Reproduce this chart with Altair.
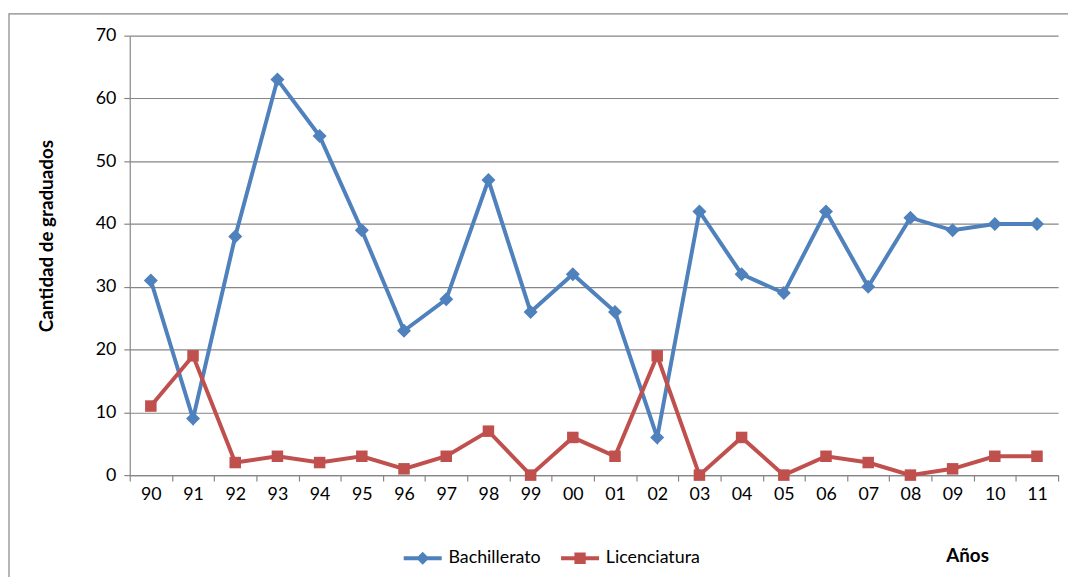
import altair as alt
import pandas as pd

years = ["90", "91", "92", "93", "94", "95", "96", "97", "98", "99", "00",
         "01", "02", "03", "04", "05", "06", "07", "08", "09", "10", "11"]
bachillerato = [31, 9, 38, 63, 54, 39, 23, 28, 47, 26, 32, 26, 6, 42, 32, 29, 42, 30, 41, 39, 40, 40]
licenciatura = [11, 19, 2, 3, 2, 3, 1, 3, 7, 0, 6, 3, 19, 0, 6, 0, 3, 2, 0, 1, 3, 3]
series_names = ["Bachillerato", "Licenciatura"]
series_colors = ["#4F81BD", "#C0504D"]

rows = []
for i, y in enumerate(years):
    rows.append({"year": y, "order": i, "series": series_names[0], "value": bachillerato[i]})
    rows.append({"year": y, "order": i, "series": series_names[1], "value": licenciatura[i]})
df = pd.DataFrame(rows)

FONT = "Lato"
FS = 18
TFS = 19

x_enc = alt.X("year:N", sort=years,
              scale=alt.Scale(type="band", paddingInner=0, paddingOuter=0),
              axis=alt.Axis(title="Años", tickBand="extent", labelAngle=0,
                            titleX=846, titleY=81, titleAlign="center",
                            titleBaseline="middle", titleFontWeight="bold",
                            titleFontSize=TFS, labelFontSize=FS, labelFont=FONT,
                            titleFont=FONT, labelPadding=5))
y_enc = alt.Y("value:Q", scale=alt.Scale(domain=[0, 70], nice=False),
              axis=alt.Axis(title="Cantidad de graduados", values=list(range(0, 71, 10)),
                            titleAngle=270, titleX=-84, titleY=202,
                            titleAlign="center", titleBaseline="middle",
                            titleFontWeight="bold", titleFontSize=TFS,
                            labelFontSize=FS, labelFont=FONT, titleFont=FONT,
                            grid=True, labelPadding=8))

layers = []
shapes = ["diamond", "square"]
sizes = [200, 135]
for name, col in zip(series_names, series_colors):
    base = alt.Chart(df).transform_filter(alt.datum.series == name)
    layers.append(base.mark_line(strokeWidth=4, color=col).encode(
        x=x_enc, y=y_enc, order="order:Q"))
for name, col, shp, sz in zip(series_names, series_colors, shapes, sizes):
    base = alt.Chart(df).transform_filter(alt.datum.series == name)
    layers.append(base.mark_point(shape=shp, filled=True, size=sz, opacity=1, color=col).encode(
        x=x_enc, y=y_enc))

diamond_sym = "M-3.2,-0.32 L3.2,-0.32 L3.2,0.32 L-3.2,0.32 Z M0,-1.1 L1.1,0 L0,1.1 L-1.1,0 Z"
square_sym = "M-3.2,-0.32 L3.2,-0.32 L3.2,0.32 L-3.2,0.32 Z M-0.95,-0.95 L0.95,-0.95 L0.95,0.95 L-0.95,0.95 Z"

legend_layer = alt.Chart(df).mark_point(filled=True, opacity=1, clip=True).encode(
    x=alt.value(-3000), y=alt.value(-3000),
    color=alt.Color("series:N", scale=alt.Scale(domain=series_names, range=series_colors),
                    legend=alt.Legend(title=None, orient="none", direction="horizontal",
                                      legendX=287, legendY=519, symbolSize=144,
                                      symbolOpacity=1, labelOffset=17,
                                      columnPadding=19, labelFontSize=FS,
                                      labelFont=FONT, labelColor="#000000",
                                      symbolStrokeWidth=0)),
    shape=alt.Shape("series:N", scale=alt.Scale(domain=series_names,
                                                 range=[diamond_sym, square_sym])),
)

border = alt.Chart(pd.DataFrame({"k": [0]})).mark_rect(
    fill=None, stroke="#868686", strokeWidth=1.2, clip=False).encode(
    x=alt.value(-122), x2=alt.value(960), y=alt.value(-22), y2=alt.value(580))

chart = alt.layer(border, *layers, legend_layer).properties(
    width=938, height=444,
    autosize=alt.AutoSizeParams(type="none"),
    padding={"left": 123, "top": 25, "right": 10, "bottom": 100},
).configure_view(stroke=None).configure_axis(
    labelColor="#000000", titleColor="#000000", domainColor="#868686",
    tickColor="#868686", gridColor="#868686", tickSize=6, domainWidth=1.2,
    tickWidth=1.2, gridWidth=1.2,
).configure_axisX(grid=False)

chart.save("out.html", embed_options={"renderer": "svg", "actions": False})
